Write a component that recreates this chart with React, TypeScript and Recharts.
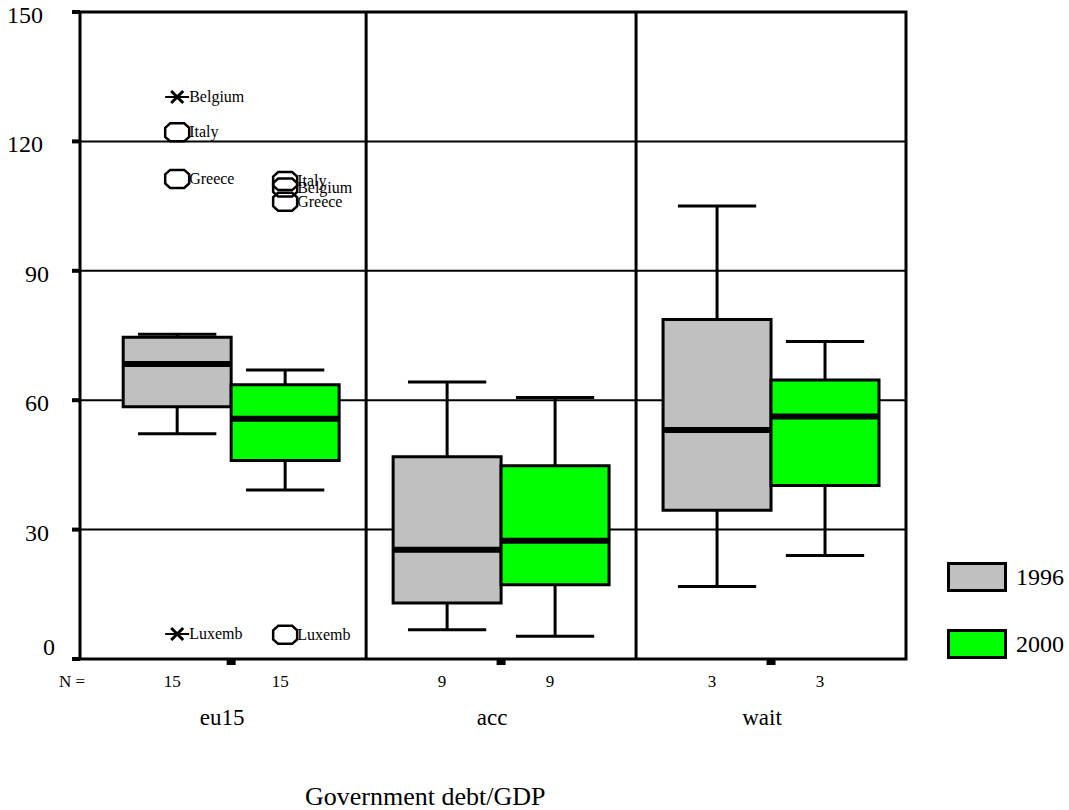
import {
  CartesianGrid,
  ComposedChart,
  ReferenceArea,
  ReferenceLine,
  Scatter,
  XAxis,
  YAxis,
} from "recharts"

const groups = ["eu15", "acc", "wait"]
const years = ["1996", "2000"]
const yearColors = ["#c0c0c0", "#00ff00"]
const counts1996 = [15, 9, 3]
const counts2000 = [15, 9, 3]

// box statistics per group (eu15, acc, wait)
const low1996 = [52.2, 6.8, 16.8]
const q1_1996 = [58.5, 13.0, 34.5]
const median1996 = [68.4, 25.3, 53.1]
const q3_1996 = [74.6, 46.9, 78.7]
const high1996 = [75.3, 64.2, 105.0]

const low2000 = [39.2, 5.3, 24.0]
const q1_2000 = [46.0, 17.2, 40.2]
const median2000 = [55.7, 27.4, 56.2]
const q3_2000 = [63.6, 44.8, 64.7]
const high2000 = [67.0, 60.6, 73.6]

const outliers1996 = [
  { group: 0, name: "Belgium", value: 130.3, extreme: true },
  { group: 0, name: "Italy", value: 122.1, extreme: false },
  { group: 0, name: "Greece", value: 111.3, extreme: false },
  { group: 0, name: "Luxemb", value: 5.8, extreme: true },
]
const outliers2000 = [
  { group: 0, name: "Italy", value: 110.8, extreme: false },
  { group: 0, name: "Belgium", value: 109.3, extreme: false },
  { group: 0, name: "Greece", value: 106.0, extreme: false },
  { group: 0, name: "Luxemb", value: 5.6, extreme: false },
]

const yTicks = [0, 30, 60, 90, 120, 150]

const FONT = "'Liberation Serif', 'Times New Roman', serif"
const X_MIN = -0.56
const X_MAX = 2.5
const yearOffset = [-0.2, 0.2]
const boxHalf = 0.2
const capHalf = 0.145

const boxes = [
  { low: low1996, q1: q1_1996, median: median1996, q3: q3_1996, high: high1996, counts: counts1996 },
  { low: low2000, q1: q1_2000, median: median2000, q3: q3_2000, high: high2000, counts: counts2000 },
]

const outlierPoints = [outliers1996, outliers2000].flatMap((list, yi) =>
  list.map((o) => ({ x: o.group + yearOffset[yi], y: o.value, name: o.name, extreme: o.extreme }))
)

// N counts sit under each box; group names and square marks under each group
const nLabels = new Map<string, string>()
boxes.forEach((b, yi) =>
  groups.forEach((_, gi) => nLabels.set((gi + yearOffset[yi]).toFixed(2), String(b.counts[gi])))
)
const xTicks = [X_MIN, ...groups.flatMap((_, gi) => [gi - 0.2, gi, gi + 0.2])]

function YTick({ x, y, payload }: any) {
  const label = String(payload.value)
  const dy = payload.value === 0 ? -12 : 3
  return (
    <g>
      <rect x={x - 8} y={y - 2} width={8} height={4} fill="#000" />
      <text
        x={x - 19 - 6 * label.length}
        y={y + dy + 8}
        textAnchor="end"
        fontSize={24}
        fontFamily={FONT}
        fill="#000"
      >
        {label}
      </text>
    </g>
  )
}

function XTick({ x, y, payload }: any) {
  const v = payload.value as number
  if (Math.abs(v - X_MIN) < 1e-6) {
    return (
      <text x={x - 8} y={y + 28} textAnchor="middle" fontSize={17} fontFamily={FONT} fill="#000">
        N =
      </text>
    )
  }
  if (Number.isInteger(v)) {
    return (
      <g>
        <rect x={x - 4.5} y={y + 1} width={9} height={5} fill="#000" />
        <text x={x - 9} y={y + 66} textAnchor="middle" fontSize={23} fontFamily={FONT} fill="#000">
          {groups[v]}
        </text>
      </g>
    )
  }
  return (
    <text x={x - 5} y={y + 28} textAnchor="middle" fontSize={17} fontFamily={FONT} fill="#000">
      {nLabels.get(v.toFixed(2))}
    </text>
  )
}

function OutlierMark(props: any) {
  const { cx, cy, payload } = props
  return (
    <g>
      <text x={cx + 12} y={cy + 5} fontSize={16} fontFamily={FONT} fill="#000">
        {payload.name}
      </text>
      {payload.extreme ? (
        <g stroke="#000">
          <line x1={cx - 12} y1={cy} x2={cx + 12} y2={cy} strokeWidth={2} />
          <line x1={cx - 6} y1={cy - 6} x2={cx + 6} y2={cy + 6} strokeWidth={3} />
          <line x1={cx - 6} y1={cy + 6} x2={cx + 6} y2={cy - 6} strokeWidth={3} />
        </g>
      ) : (
        <polygon
          points={`${cx - 12},${cy - 4.5} ${cx - 7},${cy - 9} ${cx + 7},${cy - 9} ${cx + 12},${cy - 4.5} ${cx + 12},${cy + 4.5} ${cx + 7},${cy + 9} ${cx - 7},${cy + 9} ${cx - 12},${cy + 4.5}`}
          fill="none"
          stroke="#000"
          strokeWidth={2.5}
        />
      )}
    </g>
  )
}

export default function App() {
  return (
    <div style={{ position: "relative", width: 1069, height: 810, fontFamily: FONT }}>
      <style>{"body { margin: 0; }"}</style>
      <ComposedChart
        width={1069}
        height={810}
        margin={{ top: 12, right: 163, left: 0, bottom: 121 }}
      >
        <CartesianGrid vertical={false} stroke="#000" strokeWidth={2} />
        <XAxis
          type="number"
          dataKey="x"
          domain={[X_MIN, X_MAX]}
          ticks={xTicks}
          interval={0}
          allowDataOverflow
          axisLine={false}
          tickLine={false}
          tickSize={0}
          tickMargin={0}
          height={30}
          tick={<XTick />}
        />
        <YAxis
          type="number"
          dataKey="y"
          domain={[0, 150]}
          ticks={yTicks}
          interval={0}
          width={80}
          axisLine={false}
          tickLine={false}
          tickSize={0}
          tickMargin={0}
          tick={<YTick />}
        />

        {[0.5, 1.5].map((x) => (
          <ReferenceLine key={`div-${x}`} x={x} stroke="#000" strokeWidth={3} />
        ))}

        {boxes.map((b, yi) =>
          groups.map((g, gi) => {
            const c = gi + yearOffset[yi]
            return [
              <ReferenceLine
                key={`wu-${yi}-${g}`}
                segment={[{ x: c, y: b.q3[gi] }, { x: c, y: b.high[gi] }]}
                stroke="#000"
                strokeWidth={3}
              />,
              <ReferenceLine
                key={`wl-${yi}-${g}`}
                segment={[{ x: c, y: b.low[gi] }, { x: c, y: b.q1[gi] }]}
                stroke="#000"
                strokeWidth={3}
              />,
              <ReferenceLine
                key={`cu-${yi}-${g}`}
                segment={[{ x: c - capHalf, y: b.high[gi] }, { x: c + capHalf, y: b.high[gi] }]}
                stroke="#000"
                strokeWidth={3}
              />,
              <ReferenceLine
                key={`cl-${yi}-${g}`}
                segment={[{ x: c - capHalf, y: b.low[gi] }, { x: c + capHalf, y: b.low[gi] }]}
                stroke="#000"
                strokeWidth={3}
              />,
              <ReferenceArea
                key={`box-${yi}-${g}`}
                x1={c - boxHalf}
                x2={c + boxHalf}
                y1={b.q1[gi]}
                y2={b.q3[gi]}
                fill={yearColors[yi]}
                fillOpacity={1}
                stroke="#000"
                strokeWidth={3}
              />,
              <ReferenceLine
                key={`med-${yi}-${g}`}
                segment={[{ x: c - boxHalf, y: b.median[gi] }, { x: c + boxHalf, y: b.median[gi] }]}
                stroke="#000"
                strokeWidth={6}
              />,
            ]
          })
        )}

        <ReferenceArea
          x1={X_MIN}
          x2={X_MAX}
          y1={0}
          y2={150}
          fill="none"
          stroke="#000"
          strokeWidth={3}
          ifOverflow="visible"
        />

        <Scatter
          data={outlierPoints}
          dataKey="y"
          shape={<OutlierMark />}
          isAnimationActive={false}
        />
      </ComposedChart>

      {/* legend */}
      <div style={{ position: "absolute", left: 947, top: 562, width: 122 }}>
        {years.map((year, i) => (
          <div
            key={year}
            style={{
              display: "flex",
              alignItems: "center",
              height: 30,
              marginBottom: i === 0 ? 37 : 0,
              whiteSpace: "nowrap",
            }}
          >
            <div
              style={{
                width: 54,
                height: 24,
                flexShrink: 0,
                background: yearColors[i],
                border: "3px solid #000",
              }}
            />
            <span style={{ marginLeft: 9, fontSize: 24, lineHeight: 1 }}>{year}</span>
          </div>
        ))}
      </div>

      <div
        style={{
          position: "absolute",
          left: 305,
          top: 784,
          fontSize: 26,
          lineHeight: 1,
          whiteSpace: "nowrap",
        }}
      >
        Government debt/GDP
      </div>
    </div>
  )
}
